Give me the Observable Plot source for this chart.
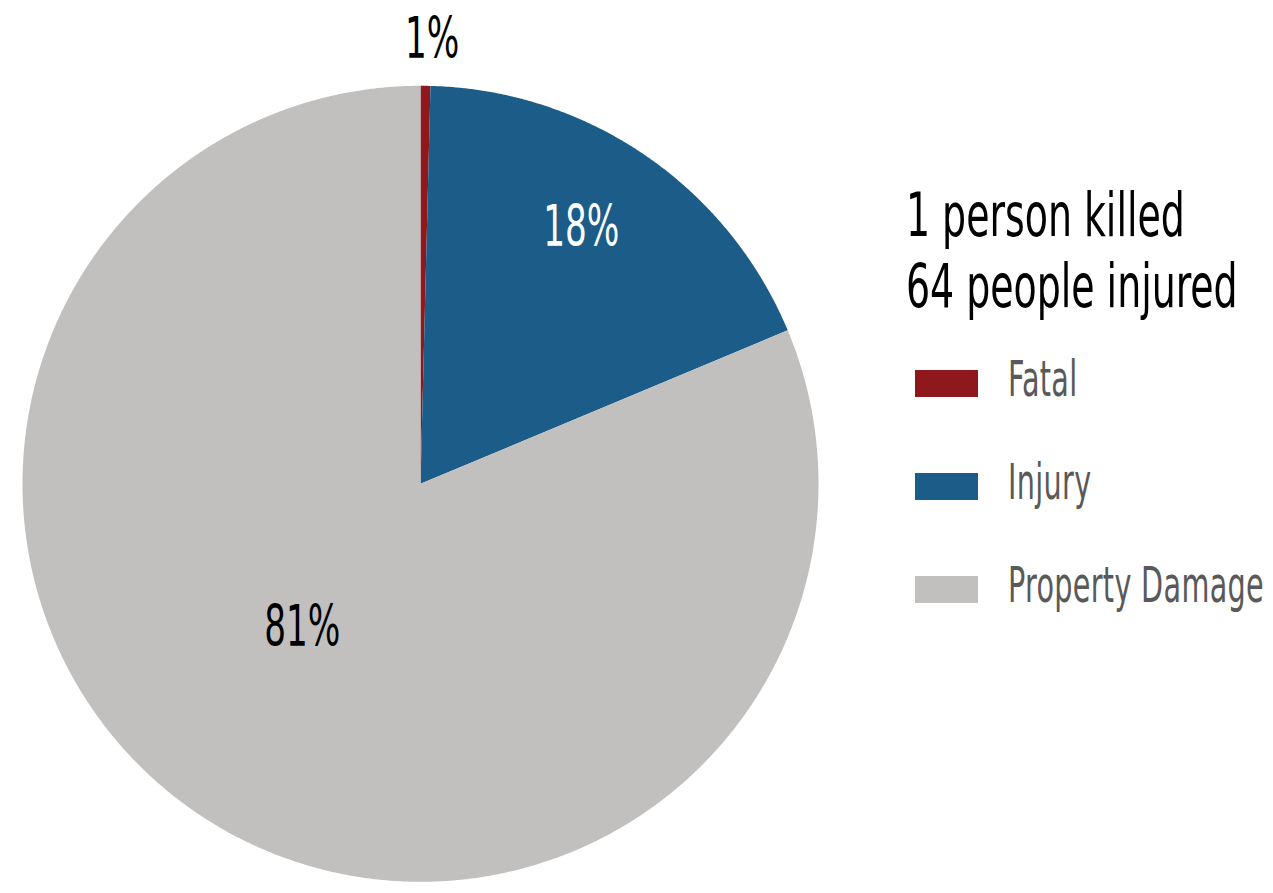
<!DOCTYPE html>
<html>
<head>
<meta charset="utf-8">
<script src="https://cdn.jsdelivr.net/npm/d3@7"></script>
<script src="https://cdn.jsdelivr.net/npm/@observablehq/plot@0.6"></script>
<style>
  html, body { margin: 0; padding: 0; background: #fff; }
  #wrap { position: relative; width: 1273px; height: 893px; overflow: hidden;
          font-family: "Liberation Sans Narrow", "DejaVu Sans Condensed", "Roboto", sans-serif; }
  #chart { position: absolute; left: 0; top: 0; }
  .head { position: absolute; left: 906px; top: 179px; font-size: 61px; line-height: 71px; color: #000; }
  .head div { transform: scaleX(0.69); transform-origin: 0 0; white-space: nowrap; }
  .leg { position: absolute; left: 915px; }
  .sw { position: absolute; left: 0; width: 63px; height: 27px; }
  .lt { position: absolute; left: 93px; font-size: 49px; line-height: 49px; color: #595959; white-space: nowrap;
        transform: scaleX(0.65); transform-origin: 0 0; letter-spacing: 0.5px; }
</style>
</head>
<body>
<div id="wrap"><div id="chart"></div><div class="head" id="head"></div><div id="legend"></div></div>
<script>
// ---- data ----
const categories = ["Fatal", "Injury", "Property Damage"];
const shares = [0.4, 18.3, 81.3];            // percent of crashes
const pctLabels = ["1%", "18%", "81%"];
const colors = ["#8E181C", "#1B5C89", "#C1C0BE"];
const headline = ["1 person killed", "64 people injured"];

// ---- layout (not data) ----
const W = 1273, H = 893, CX = 420, CY = 483.3, R = 398;
const labelRadius = [1.115, 0.76, 0.5];
const labelFill = ["black", "white", "black"];

const data = categories.map((c, i) => ({cat: c, share: shares[i], label: pctLabels[i], lr: labelRadius[i], lf: labelFill[i]}));
const arcs = d3.pie().sort(null).value(d => d.share)(data);

// polygon vertices for each slice in unit-circle coordinates
const pts = [];
for (const a of arcs) {
  const n = Math.max(2, Math.ceil((a.endAngle - a.startAngle) / 0.004));
  pts.push({cat: a.data.cat, x: 0, y: 0});
  for (let k = 0; k <= n; k++) {
    const t = a.startAngle + (a.endAngle - a.startAngle) * k / n;
    pts.push({cat: a.data.cat, x: Math.sin(t), y: Math.cos(t)});
  }
  pts.push({cat: a.data.cat, x: 0, y: 0});
}
const labels = arcs.map((a, i) => {
  const m = (a.startAngle + a.endAngle) / 2;
  return {text: a.data.label, x: a.data.lr * Math.sin(m), y: a.data.lr * Math.cos(m), lf: a.data.lf, inner: i > 0};
});

const fontFam = '"Liberation Sans Narrow", "DejaVu Sans Condensed", "Roboto", sans-serif';
const plot = Plot.plot({
  width: W, height: H, margin: 0,
  style: {background: "white", fontFamily: fontFam},
  x: {domain: [-CX / R, (W - CX) / R], axis: null},
  y: {domain: [-(H - CY) / R, CY / R], axis: null},
  color: {domain: categories, range: colors},
  marks: [
    Plot.line(pts, {x: "x", y: "y", z: "cat", fill: "cat", stroke: "none", curve: "linear"}),
    Plot.text(labels, {filter: d => !d.inner, x: "x", y: "y", text: "text", fill: "black", fontSize: 56, textAnchor: "middle", lineAnchor: "middle", dx: 6}),
    Plot.text(labels, {filter: d => d.inner && d.lf === "black", x: "x", y: "y", text: "text", fill: "black", fontSize: 56, textAnchor: "middle", lineAnchor: "middle", dx: -8, dy: -21}),
    Plot.text(labels, {filter: d => d.lf === "white", x: "x", y: "y", text: "text", fill: "white", fontSize: 56, textAnchor: "middle", lineAnchor: "middle", dx: -10, dy: -6})
  ]
});
plot.querySelectorAll("text").forEach(t => {
  const tr = t.getAttribute("transform") || "";
  t.setAttribute("transform", tr + " scale(0.68,1)");
});
document.getElementById("chart").appendChild(plot);

// headline
const head = document.getElementById("head");
headline.forEach(h => { const d = document.createElement("div"); d.textContent = h; head.appendChild(d); });

// legend
const legend = document.getElementById("legend");
const rowTop = [370, 473, 576];
categories.forEach((c, i) => {
  const row = document.createElement("div");
  row.className = "leg";
  row.style.top = rowTop[i] + "px";
  const sw = document.createElement("div");
  sw.className = "sw"; sw.style.background = colors[i];
  const lt = document.createElement("div");
  lt.className = "lt"; lt.textContent = c; lt.style.top = "-15px";
  row.appendChild(sw); row.appendChild(lt);
  legend.appendChild(row);
});
</script>
</body>
</html>
